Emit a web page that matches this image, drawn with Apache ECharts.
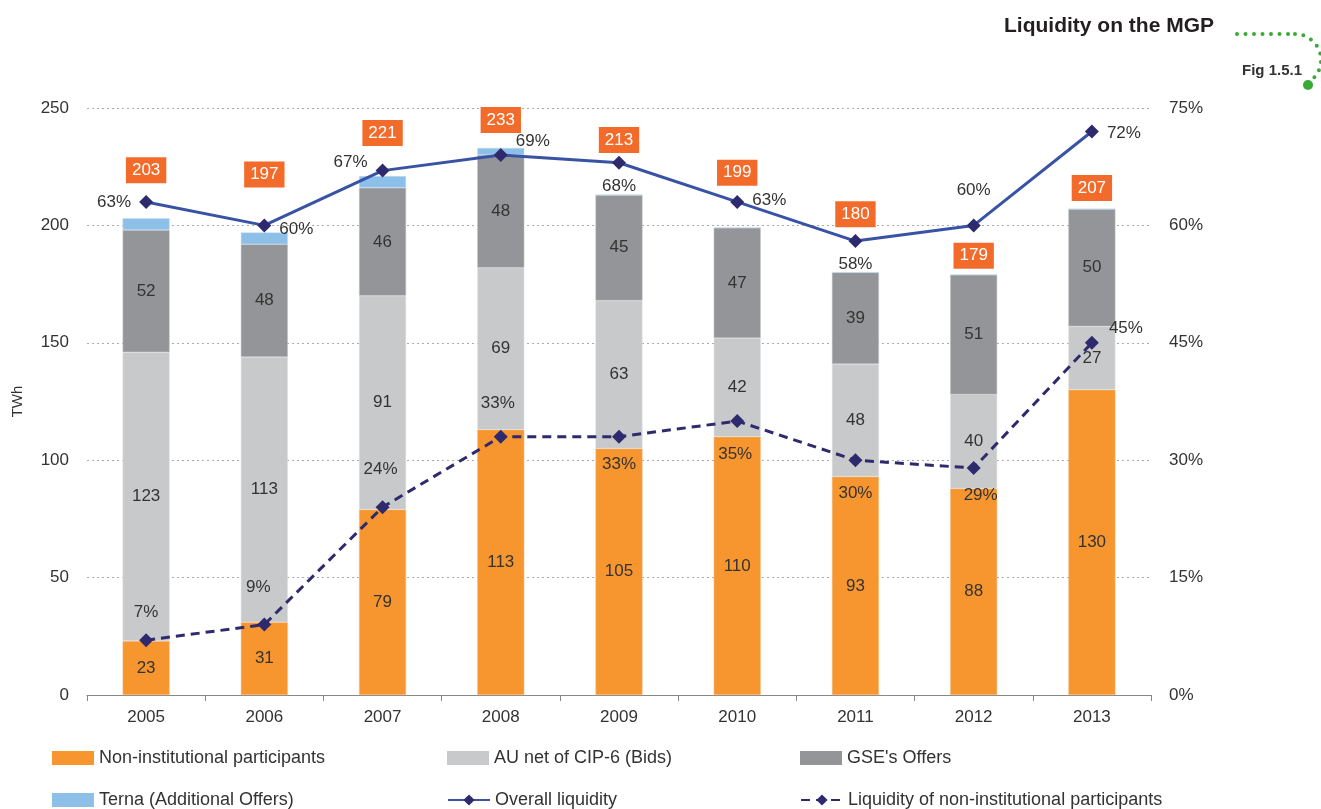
<!DOCTYPE html>
<html>
<head>
<meta charset="utf-8">
<title>Liquidity on the MGP</title>
<script src="https://cdn.jsdelivr.net/npm/echarts@6/dist/echarts.min.js"></script>
<style>
  html, body { margin: 0; padding: 0; background: #fff; }
  #chart { width: 1321px; height: 809px; }
</style>
</head>
<body>
<div id="chart"></div>
<script>
// data
const years = ['2005', '2006', '2007', '2008', '2009', '2010', '2011', '2012', '2013']
const nonInstitutional = [23, 31, 79, 113, 105, 110, 93, 88, 130]
const auNetCip6 = [123, 113, 91, 69, 63, 42, 48, 40, 27]
const gseOffers = [52, 48, 46, 48, 45, 47, 39, 51, 50]
const ternaOffers = [5, 5, 5, 3, 0, 0, 0, 0, 0]
const totals = [203, 197, 221, 233, 213, 199, 180, 179, 207]
const overallLiquidity = [63, 60, 67, 69, 68, 63, 58, 60, 72]
const nonInstLiquidity = [7, 9, 24, 33, 33, 35, 30, 29, 45]

// label placement (hand placed in the original)
const totalOffsets = [-48, -58, -43, -28, -55, -55, -58, -19, -21]
const overallPos = [
  ['left', [0, 0]], ['right', [0, 4]], ['left', [0, -8]], ['right', [0, -14]],
  ['bottom', [0, 0]], ['right', [0, -2]], ['bottom', [0, 0]], ['top', [0, -12]], ['right', [0, 2]]
]
const nonInstPos = [
  ['top', [0, -4]], ['top', [-6, -14]], ['top', [-2, -14]], ['top', [-3, -10]],
  ['bottom', [0, 4]], ['bottom', [-2, 10]], ['bottom', [0, 10]], ['bottom', [7, 4]], ['right', [2, -14]]
]

const font = 'Liberation Sans, Arial, sans-serif'
const textColor = '#333'

const barLabel = {
  show: true,
  position: 'inside',
  color: textColor,
  fontSize: 17,
  fontFamily: font
}

function lineData (values, pos) {
  return values.map((v, i) => ({
    value: v,
    label: { position: pos[i][0], offset: pos[i][1] }
  }))
}

// one legend per entry so the 3x2 layout matches the original
const legendSlots = [
  ['Non-institutional participants', 52, 749, 'rect'],
  ['AU net of CIP-6 (Bids)', 447, 749, 'rect'],
  ["GSE's Offers", 800, 749, 'rect'],
  ['Terna (Additional Offers)', 52, 791, 'rect'],
  ['Overall liquidity', 447, 791, null],
  ['Liquidity of non-institutional participants', 800, 791, null]
]

const chart = echarts.init(document.getElementById('chart'))

const option = {
  animation: false,
  textStyle: { fontFamily: font },
  title: {
    text: 'Liquidity on the MGP',
    right: 102,
    top: 11,
    textStyle: { fontSize: 21, fontWeight: 'bold', color: '#231f20', fontFamily: font }
  },
  graphic: [
    {
      type: 'text',
      right: 19,
      top: 63,
      style: { text: 'Fig 1.5.1', fill: '#333', font: 'bold 15px ' + font }
    },
    {
      type: 'line',
      shape: { x1: 1237, y1: 34, x2: 1295, y2: 34 },
      style: { stroke: '#3aaa35', lineWidth: 4, lineDash: [0, 8.5], lineCap: 'round' }
    },
    {
      type: 'arc',
      shape: { cx: 1295, cy: 60, r: 26, startAngle: -Math.PI / 2, endAngle: 0.95 },
      style: { stroke: '#3aaa35', fill: null, lineWidth: 4, lineDash: [0, 8.5], lineCap: 'round' }
    },
    {
      type: 'circle',
      shape: { cx: 1308, cy: 85, r: 5 },
      style: { fill: '#3aaa35' }
    }
  ],
  legend: legendSlots.map(s => {
    const item = { name: s[0] }
    if (s[3]) item.icon = s[3]
    return {
      left: s[1],
      top: s[2],
      itemWidth: 42,
      itemHeight: 14,
      itemGap: 0,
      padding: 0,
      itemStyle: { borderWidth: 0 },
      textStyle: { fontSize: 18, color: textColor },
      data: [item]
    }
  }),
  grid: { left: 87, right: 170, top: 108, bottom: 114 },
  xAxis: {
    type: 'category',
    data: years,
    axisLine: { lineStyle: { color: '#888' } },
    axisTick: { show: true, length: 6, lineStyle: { color: '#888' } },
    axisLabel: { color: textColor, fontSize: 17, margin: 14 }
  },
  yAxis: [
    {
      type: 'value',
      name: 'TWh',
      nameLocation: 'middle',
      nameGap: 62,
      nameTextStyle: { fontSize: 15, color: textColor },
      min: 0, max: 250, interval: 50,
      axisLine: { show: false },
      axisTick: { show: false },
      axisLabel: { color: textColor, fontSize: 17, margin: 18 },
      splitLine: { lineStyle: { color: '#aaa', type: [2, 3] } }
    },
    {
      type: 'value',
      min: 0, max: 75, interval: 15,
      axisLine: { show: false },
      axisTick: { show: false },
      axisLabel: { color: textColor, fontSize: 17, margin: 18, formatter: '{value}%' },
      splitLine: { show: false }
    }
  ],
  series: [
    {
      name: 'Non-institutional participants',
      type: 'bar', stack: 'twh', barWidth: 47,
      itemStyle: { color: '#f7962e', borderColor: '#f3c08a', borderWidth: 0.5 },
      label: barLabel,
      data: nonInstitutional
    },
    {
      name: 'AU net of CIP-6 (Bids)',
      type: 'bar', stack: 'twh',
      itemStyle: { color: '#c8c9cb', borderColor: '#e2e3e4', borderWidth: 0.5 },
      label: barLabel,
      data: auNetCip6
    },
    {
      name: "GSE's Offers",
      type: 'bar', stack: 'twh',
      itemStyle: { color: '#939598', borderColor: '#c5c6c8', borderWidth: 0.5 },
      label: barLabel,
      data: gseOffers
    },
    {
      name: 'Terna (Additional Offers)',
      type: 'bar', stack: 'twh',
      itemStyle: { color: '#8dc0e8', borderColor: '#c4def3', borderWidth: 0.5 },
      data: ternaOffers
    },
    {
      name: 'total',
      type: 'scatter',
      symbolSize: 0,
      silent: true,
      z: 5,
      itemStyle: { opacity: 1 },
      label: {
        show: true,
        position: 'inside',
        backgroundColor: '#f26b2a',
        color: '#fff',
        opacity: 1,
        fontSize: 17,
        padding: [5, 6, 4, 6]
      },
      data: totals.map((v, i) => ({ value: [i, v], label: { offset: [0, totalOffsets[i]] } }))
    },
    {
      name: 'Overall liquidity',
      type: 'line',
      yAxisIndex: 1,
      symbol: 'diamond',
      symbolSize: 14,
      z: 6,
      lineStyle: { color: '#3953a4', width: 3 },
      itemStyle: { color: '#2e2a6e' },
      label: { show: true, formatter: '{c}%', color: textColor, fontSize: 17, distance: 8 },
      data: lineData(overallLiquidity, overallPos)
    },
    {
      name: 'Liquidity of non-institutional participants',
      type: 'line',
      yAxisIndex: 1,
      symbol: 'diamond',
      symbolSize: 14,
      z: 6,
      lineStyle: { color: '#2e2a6e', width: 3, type: [9, 6] },
      itemStyle: { color: '#2e2a6e' },
      label: { show: true, formatter: '{c}%', color: textColor, fontSize: 17, distance: 8 },
      data: lineData(nonInstLiquidity, nonInstPos)
    }
  ]
}

chart.setOption(option)
window.addEventListener('resize', () => chart.resize())
</script>
</body>
</html>
